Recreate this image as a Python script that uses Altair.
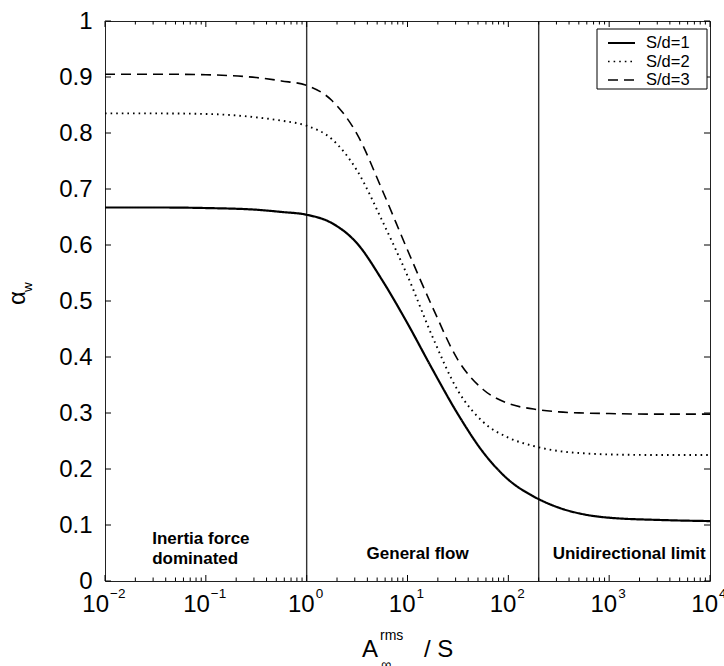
import altair as alt
import pandas as pd

# ---------------- data ----------------
X_VALUES = [0.01, 0.0316, 0.1, 0.316, 0.562, 1, 1.78, 3.16, 5.62, 10,
            17.8, 31.6, 56.2, 100, 178, 316, 562, 1000, 3162, 10000]
SD1 = [0.667, 0.667, 0.666, 0.663, 0.659, 0.654, 0.639, 0.603, 0.537, 0.460,
       0.377, 0.298, 0.230, 0.181, 0.151, 0.131, 0.119, 0.113, 0.109, 0.107]
SD2 = [0.835, 0.835, 0.834, 0.828, 0.822, 0.813, 0.789, 0.733, 0.643, 0.545,
       0.435, 0.340, 0.284, 0.256, 0.241, 0.232, 0.228, 0.226, 0.225, 0.225]
SD3 = [0.905, 0.905, 0.904, 0.899, 0.893, 0.885, 0.858, 0.798, 0.698, 0.591,
       0.488, 0.395, 0.342, 0.317, 0.307, 0.302, 0.300, 0.299, 0.298, 0.298]
SERIES = ["S/d=1", "S/d=2", "S/d=3"]

REGION_BOUNDS = [1, 200]
REGION_LABELS = ["Inertia force\ndominated", "General flow", "Unidirectional limit"]
REGION_X = [0.0294, 12.6, 1578]

MAJOR_X = [0.01, 0.1, 1, 10, 100, 1000, 10000]
EXPONENTS = ["\u22122", "\u22121", "0", "1", "2", "3", "4"]
Y_TICKS = [0, 0.1, 0.2, 0.3, 0.4, 0.5, 0.6, 0.7, 0.8, 0.9, 1]

W, H = 605, 560
FONT = "Liberation Sans"

# ---------------- tables ----------------
rows = []
for name, vals in zip(SERIES, [SD1, SD2, SD3]):
    for x, y in zip(X_VALUES, vals):
        rows.append({"x": x, "y": y, "series": name})
curves = pd.DataFrame(rows)

minor_x = [m * 10.0 ** k for k in range(-2, 4) for m in range(2, 10)]
major_df = pd.DataFrame({"v": MAJOR_X})
minor_df = pd.DataFrame({"v": minor_x})
ytick_df = pd.DataFrame({"v": Y_TICKS})
lab_df = pd.DataFrame({"v": MAJOR_X, "base": ["10"] * len(MAJOR_X), "exp": EXPONENTS})
lab_neg = lab_df[lab_df["exp"].str.startswith("\u2212")]
lab_pos = lab_df[~lab_df["exp"].str.startswith("\u2212")]

xscale = alt.Scale(type="log", domain=[0.01, 10000], nice=False)
yscale = alt.Scale(domain=[0, 1], nice=False, zero=False)
yaxis = alt.Axis(values=Y_TICKS, format="~g", ticks=False, domain=False, grid=False,
                 labelFontSize=24, labelFont=FONT, labelColor="black",
                 labelPadding=13, title=None)


def X(field):
    return alt.X(field, scale=xscale, axis=None)


def Y(field):
    return alt.Y(field, scale=yscale, axis=yaxis)


lines = alt.Chart(curves).mark_line(color="black", interpolate="monotone").encode(
    x=X("x:Q"),
    y=Y("y:Q"),
    strokeDash=alt.StrokeDash("series:N", scale=alt.Scale(domain=SERIES, range=[[1, 0], [1.6, 4], [10, 6]]), legend=None),
    strokeWidth=alt.StrokeWidth("series:N", scale=alt.Scale(domain=SERIES, range=[2.2, 1.6, 1.6]), legend=None),
    detail="series:N",
)

bounds = alt.Chart(pd.DataFrame({"v": REGION_BOUNDS})).mark_rule(color="#333", strokeWidth=1.4).encode(
    x=X("v:Q"), y=alt.value(0), y2=alt.value(H)
)

reg_df = pd.DataFrame({"v": REGION_X, "t": REGION_LABELS})
reg_inertia = alt.Chart(reg_df.iloc[[0]]).mark_text(
    align="left", baseline="alphabetic", fontSize=17, fontWeight="bold", font=FONT,
    lineBreak="\n", lineHeight=19.5, color="black"
).encode(x=X("v:Q"), y=alt.value(523), text="t:N")
reg_others = alt.Chart(reg_df.iloc[1:]).mark_text(
    align="center", baseline="alphabetic", fontSize=17, fontWeight="bold", font=FONT, color="black"
).encode(x=X("v:Q"), y=alt.value(538), text="t:N")

# inward ticks (MATLAB style box)
tick_layers = []
for df, ln in [(major_df, 6), (minor_df, 3.5)]:
    tick_layers.append(alt.Chart(df).mark_rule(color="black", strokeWidth=1).encode(
        x=X("v:Q"), y=alt.value(H), y2=alt.value(H - ln)))
    tick_layers.append(alt.Chart(df).mark_rule(color="black", strokeWidth=1).encode(
        x=X("v:Q"), y=alt.value(0), y2=alt.value(ln)))
tick_layers.append(alt.Chart(ytick_df).mark_rule(color="black", strokeWidth=1).encode(
    y=Y("v:Q"), x=alt.value(0), x2=alt.value(6)))
tick_layers.append(alt.Chart(ytick_df).mark_rule(color="black", strokeWidth=1).encode(
    y=Y("v:Q"), x=alt.value(W - 6), x2=alt.value(W)))

# x tick labels 10^n
xlab = []
for df, d10, dexp in [(lab_neg, 4, 5), (lab_pos, 8, 9)]:
    xlab.append(alt.Chart(df).mark_text(align="right", baseline="alphabetic", fontSize=24,
                                        font=FONT, color="black", dx=d10).encode(
        x=X("v:Q"), y=alt.value(591), text="base:N"))
    xlab.append(alt.Chart(df).mark_text(align="left", baseline="alphabetic", fontSize=13.5,
                                        font=FONT, color="black", dx=dexp).encode(
        x=X("v:Q"), y=alt.value(577), text="exp:N"))

# axis titles
one = pd.DataFrame({"k": [0]})


def txt(s, x, y, size, align="left", angle=0):
    kw = dict(align=align, baseline="alphabetic", fontSize=size, font=FONT, color="black", text=s)
    if angle:
        kw["angle"] = angle
    return alt.Chart(one).mark_text(**kw).encode(x=alt.value(x), y=alt.value(y))


titles = [
    txt("A", 257, 636, 24),
    txt("rms", 275, 619, 14),
    txt("\u221e", 276, 648, 14),
    txt("/ S", 319, 636, 24),
    txt("\u03b1", -80, 277, 24, align="center", angle=270),
    txt("w", -73, 266, 13.5, align="center", angle=270),
]

# legend box
leg_box = alt.Chart(one).mark_rect(fill="white", stroke="black", strokeWidth=1).encode(
    x=alt.value(492), x2=alt.value(602), y=alt.value(8), y2=alt.value(68))
leg_layers = [leg_box]
leg_styles = [([1, 0], 2.2), ([1.6, 4], 1.6), ([10, 6], 1.6)]
leg_rows = [22, 40.5, 59]
for name, (dash, sw), yy in zip(SERIES, leg_styles, leg_rows):
    leg_layers.append(alt.Chart(one).mark_rule(color="black", strokeDash=dash, strokeWidth=sw).encode(
        x=alt.value(503), x2=alt.value(530), y=alt.value(yy)))
    leg_layers.append(alt.Chart(one).mark_text(align="left", baseline="middle", fontSize=16.5,
                                               font=FONT, color="black", text=name).encode(
        x=alt.value(541), y=alt.value(yy)))

chart = alt.layer(
    bounds, lines, reg_inertia, reg_others, *tick_layers, *xlab, *titles, *leg_layers
).properties(
    width=W, height=H,
    autosize=alt.AutoSizeParams(type="none"),
    padding={"left": 105, "top": 21, "right": 14, "bottom": 85},
    background="white",
).configure_view(stroke="#222", strokeWidth=1)

chart.save("out.html", embed_options={"renderer": "svg", "actions": False})
